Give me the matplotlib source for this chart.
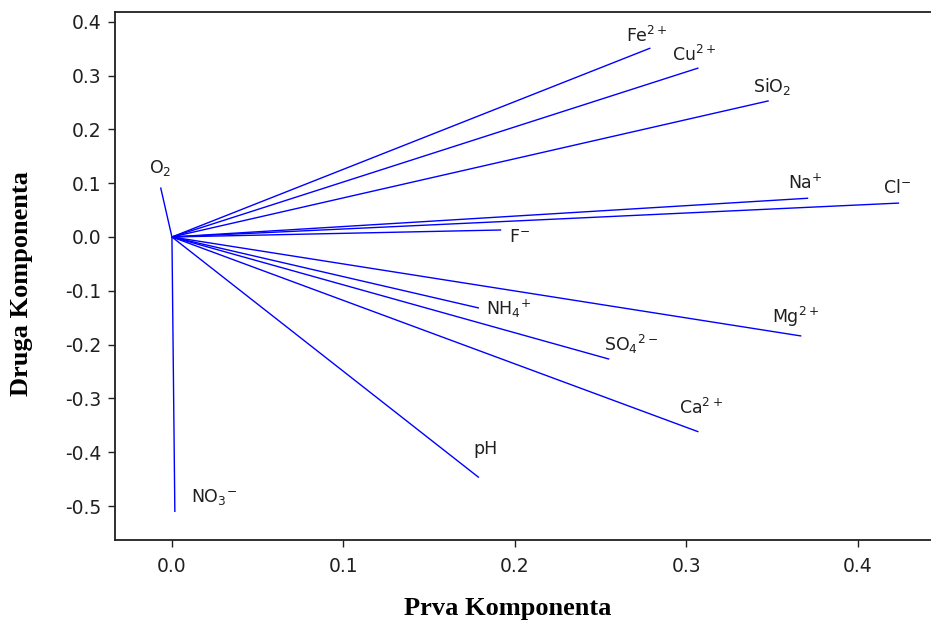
import matplotlib
matplotlib.use("Agg")
import matplotlib.pyplot as plt

# Loadings of each variable on the first two principal components
variables = ["Fe", "Cu", "SiO2", "Na", "Cl", "F", "O2", "NO3", "NH4", "pH", "Mg", "SO4", "Ca"]
pc1 = [0.279, 0.307, 0.348, 0.371, 0.424, 0.192, -0.0066, 0.0017, 0.179, 0.179, 0.367, 0.255, 0.307]
pc2 = [0.351, 0.314, 0.253, 0.072, 0.063, 0.013, 0.092, -0.511, -0.132, -0.447, -0.184, -0.227, -0.362]

labels = [r"Fe$^{2+}$", r"Cu$^{2+}$", r"SiO$_2$", r"Na$^{+}$", r"Cl$^{-}$", r"F$^{-}$",
          r"O$_2$", r"NO$_3$$^{-}$", r"NH$_4$$^{+}$", "pH", r"Mg$^{2+}$", r"SO$_4$$^{2-}$",
          r"Ca$^{2+}$"]
label_x = [0.265, 0.2915, 0.339, 0.359, 0.4146, 0.1965, -0.0134, 0.011, 0.183, 0.1755, 0.350, 0.252, 0.2955]
label_y = [0.374, 0.338, 0.279, 0.100, 0.091, 0.000, 0.128, -0.483, -0.134, -0.394, -0.148, -0.199, -0.318]

xticks = [0.0, 0.1, 0.2, 0.3, 0.4]
yticks = [0.4, 0.3, 0.2, 0.1, 0.0, -0.1, -0.2, -0.3, -0.4, -0.5]

plt.rcParams["mathtext.fontset"] = "dejavusans"

fig = plt.figure(figsize=(9.31, 6.23), dpi=100)
ax = fig.add_axes([115 / 931, 1 - 540 / 623, 1 - 115 / 931, (540 - 12) / 623])

for x, y in zip(pc1, pc2):
    ax.plot([0, x], [0, y], color="#0000ff", lw=1.0, solid_capstyle="butt")

for lab, x, y in zip(labels, label_x, label_y):
    ax.text(x, y, lab, fontsize=12.5, color="#202020", ha="left", va="center")

ax.set_xlim(-0.0332, 0.4426)
ax.set_ylim(-0.563, 0.418)
ax.set_xticks(xticks)
ax.set_xticklabels([f"{v:.1f}" for v in xticks])
ax.set_yticks(yticks)
ax.set_yticklabels([f"{v:.1f}" for v in yticks])
ax.tick_params(direction="out", length=5, width=1, labelsize=13.5, colors="#202020", pad=5)
ax.xaxis.set_tick_params(pad=7)

for side in ["left", "bottom", "top"]:
    ax.spines[side].set_linewidth(1.3)
    ax.spines[side].set_color("#202020")
ax.spines["right"].set_visible(False)

fig.text(508 / 931, 1 - 608 / 623, "Prva Komponenta", fontsize=19, fontweight="bold",
         family="Liberation Serif", ha="center", va="center")
fig.text(22 / 931, 1 - 284 / 623, "Druga Komponenta", fontsize=19, fontweight="bold",
         family="Liberation Serif", ha="center", va="center", rotation=90)

fig.savefig("out.png", dpi=100)
